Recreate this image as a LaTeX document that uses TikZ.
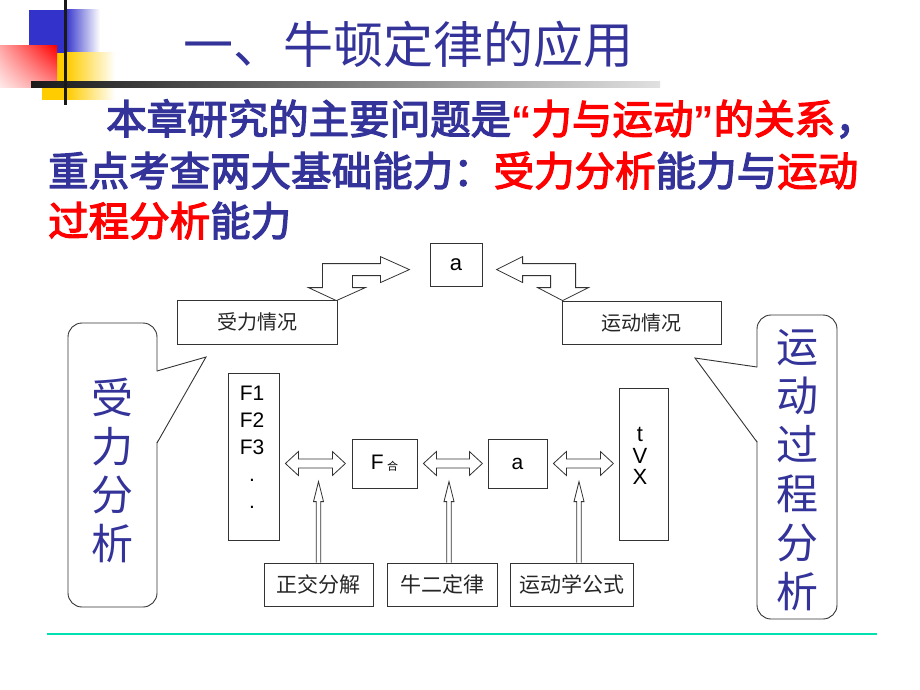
\documentclass[tikz,border=0pt]{standalone}
\usepackage{fontspec}
\setmainfont{Liberation Sans}
\newfontfamily\cjk{Noto Sans CJK SC}
\newfontfamily\cjkb{Noto Sans CJK SC}[FakeBold=3]
\usetikzlibrary{calc,shadings}
\definecolor{tblue}{RGB}{51,51,153}
\definecolor{tred}{RGB}{255,0,0}
\definecolor{teall}{RGB}{0,224,176}
\definecolor{dblue}{RGB}{51,51,204}
\definecolor{dyel}{RGB}{255,204,0}
\newcommand\myLQ{{\normalfont\bfseries “}}
\newcommand\myRQ{{\normalfont\bfseries ”}}
\begin{document}
\begin{tikzpicture}[x=1pt,y=-1pt,
  box/.style={draw=black!80, line width=0.8pt, fill=white, inner sep=0pt},
  blk/.style={draw=black!80, line width=0.8pt, fill=white, line join=miter},
  lab/.style={font=\cjk\fontsize{20}{20}\selectfont, text=black!85},
  lat/.style={font=\fontsize{21}{21}\selectfont, text=black},
  body/.style={font=\cjkb\fontsize{40.5}{48}\selectfont, text=tblue, inner sep=0pt},
  callout/.style={draw=black!80, line width=0.9pt, fill=white},
  vtext/.style={font=\cjk\fontsize{42}{48.5}\selectfont, text=tblue, align=center, inner sep=0pt}]
\useasboundingbox (0,0) rectangle (920,690);

% decoration top-left
\fill[dblue] (29,10) rectangle (65,53);
\shade[left color=dblue, right color=white] (65,10) rectangle (100,53);
\fill[dyel] (42,53) rectangle (67,100);
\shade[left color=dyel, right color=white] (67,53) rectangle (115,100);
\shade[upper right=red, upper left=red!35, lower right=red!45, lower left=red!8] (0,46) rectangle (57,88);
\shade[left color=black!90, right color=black!12] (31,82) rectangle (660,88);
\fill[black!90] (64,0) rectangle (67,105);

% title and body
\node[anchor=base, font=\cjk\fontsize{50}{50}\selectfont, text=tblue, inner sep=0pt] (title) at (408,64) {一、牛顿定律的应用};
\node[body, anchor=base west] (b1) at (106,134) {本章研究的主要问题是\textcolor{tred}{\myLQ 力与运动\myRQ 的关系}，};
\node[body, anchor=base west] (b2) at (48,186) {重点考查两大基础能力：\textcolor{tred}{受力分析}能力与\textcolor{tred}{运动}};
\node[body, anchor=base west] (b3) at (48,236) {\textcolor{tred}{过程分析}能力};

% top boxes
\node[box, minimum width=52, minimum height=43, lat, font=\fontsize{22}{22}\selectfont] (ta) at (456,264.5) {a};
\node[box, minimum width=160, minimum height=44, lab] (sl) at (257,322) {受力情况};
\node[box, minimum width=159, minimum height=43, lab] (sr) at (641.5,322.5) {运动情况};

% bent block arrows
\draw[blk] ($(sl.north east)+(-1,1)$) -- ++(29,-13) -- ++(-13,0) -- ++(0,-12) -- ++(28,0) -- ++(0,7)
  -- ++(29,-13) -- ++(-29,-13) -- ++(0,7) -- ++(-58,0) -- ++(0,24) -- ++(-14,0) -- cycle;
\draw[blk] ($(sr.north west)+(1,0)$) -- ++(26,-13) -- ++(-13,0) -- ++(0,-24) -- ++(-53,0) -- ++(0,-7)
  -- ++(-26,13) -- ++(26,13) -- ++(0,-7) -- ++(28,0) -- ++(0,12) -- ++(-13,0) -- cycle;

% callouts
\draw[callout, rounded corners=14] (68,323) rectangle (157,607);
\fill[white] (156.2,371.5) -- (206,357) -- (156.2,442.5) -- cycle;
\draw[black!80, line width=0.9pt, line join=miter] (157,371) -- (206,357) -- (157,443);
\node[vtext] (cl) at (112,470.5) {受\\力\\分\\析};

\draw[callout, rounded corners=14] (757,315) rectangle (837,619);
\fill[white] (757.8,367.5) -- (695,358) -- (757.8,441.5) -- cycle;
\draw[black!80, line width=0.9pt, line join=miter] (757,367) -- (695,358) -- (757,442);
\node[vtext, font=\cjk\fontsize{42}{49}\selectfont] (cr) at (797,470.5) {运\\动\\过\\程\\分\\析};

% middle row
\node[box, minimum width=51, minimum height=167] (Fl) at (253.5,456.5) {};
\node[lat, align=center, inner sep=0pt, font=\fontsize{21}{27}\selectfont] (Flt) at (252,447) {F1\\F2\\F3\\.\\.};
\node[box, minimum width=65, minimum height=49, lat] (Fh) at (384.5,463.5) {F\,\raisebox{-1pt}{\cjk\fontsize{11}{11}\selectfont 合}};
\node[box, minimum width=59, minimum height=49, lat] (ma) at (517.5,463.5) {a};
\node[box, minimum width=49, minimum height=152] (tv) at (643.5,464) {};
\node[lat, align=center, inner sep=0pt, font=\fontsize{22}{21.5}\selectfont] (tvt) at (640,456) {t\\V\\X};

% double block arrows
\coordinate (h1) at ($(Fl.east |- Fh.center)+(6,0)$);
\coordinate (h2) at ($(Fh.east)+(6,0)$);
\coordinate (h3) at ($(ma.east)+(6,0)$);
\foreach \c/\L in {h1/60, h2/59, h3/60}{
  \draw[blk] (\c) -- ++(13,-12) -- ++(0,7.5) -- ++(\L-26,0) -- ++(0,-7.5) -- ++(13,12)
    -- ++(-13,12) -- ++(0,-7.5) -- ++(-\L+26,0) -- ++(0,7.5) -- cycle;
}

% bottom boxes
\node[box, minimum width=109, minimum height=43, lab, font=\cjk\fontsize{21}{21}\selectfont] (d1) at (318.5,584.5) {正交分解};
\node[box, minimum width=110, minimum height=43, lab, font=\cjk\fontsize{21}{21}\selectfont] (d2) at (442,584.5) {牛二定律};
\node[box, minimum width=123, minimum height=43, lab, font=\cjk\fontsize{21}{21}\selectfont] (d3) at (571.5,584.5) {运动学公式};

% up arrows
\coordinate (u1) at ($(d1.north)+(0,0)$);
\coordinate (u2) at ($(d2.north)+(7,0)$);
\coordinate (u3) at ($(d3.north)+(7.5,0)$);
\foreach \c in {u1,u2,u3}{
  \draw[blk] ($(\c)+(-2.3,0)$) -- ++(0,-61) -- ++(-2.7,0) -- ++(5,-20) -- ++(5,20) -- ++(-2.7,0) -- ++(0,61);
}

% bottom rule
\draw[teall, line width=2.5pt] (47,634) -- (877,634);
\end{tikzpicture}
\end{document}
